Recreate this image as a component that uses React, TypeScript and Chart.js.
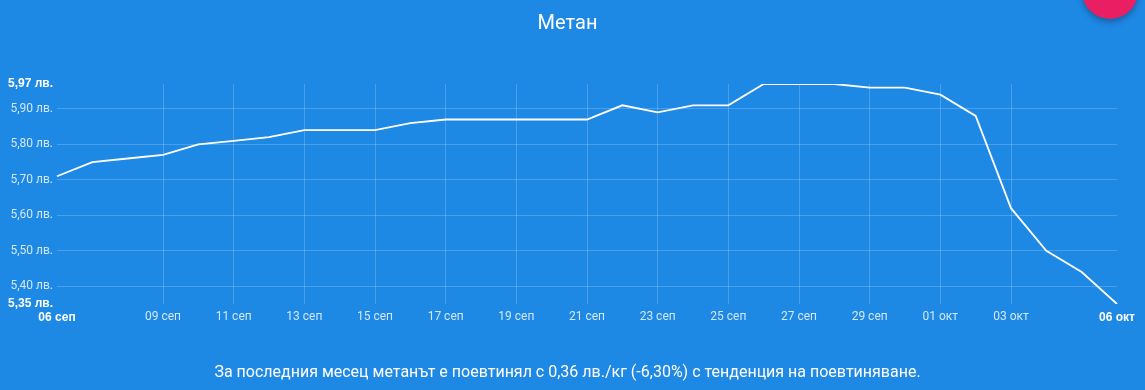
import React, { useEffect, useRef } from "react";
import { Chart, registerables } from "chart.js";

Chart.register(...registerables);

const title = "Метан";
const caption =
  "За последния месец метанът е поевтинял с 0,36 лв./кг (-6,30%) с тенденция на поевтиняване.";

const dates = [
  "06 сеп", "07 сеп", "08 сеп", "09 сеп", "10 сеп", "11 сеп", "12 сеп", "13 сеп",
  "14 сеп", "15 сеп", "16 сеп", "17 сеп", "18 сеп", "19 сеп", "20 сеп", "21 сеп",
  "22 сеп", "23 сеп", "24 сеп", "25 сеп", "26 сеп", "27 сеп", "28 сеп", "29 сеп",
  "30 сеп", "01 окт", "02 окт", "03 окт", "04 окт", "05 окт", "06 окт",
];

const prices = [
  5.71, 5.75, 5.76, 5.77, 5.8, 5.81, 5.82, 5.84,
  5.84, 5.84, 5.86, 5.87, 5.87, 5.87, 5.87, 5.87,
  5.91, 5.89, 5.91, 5.91, 5.97, 5.97, 5.97, 5.96,
  5.96, 5.94, 5.88, 5.62, 5.5, 5.44, 5.35,
];

const xTickLabels = [
  "06 сеп", "09 сеп", "11 сеп", "13 сеп", "15 сеп", "17 сеп", "19 сеп", "21 сеп",
  "23 сеп", "25 сеп", "27 сеп", "29 сеп", "01 окт", "03 окт", "06 окт",
];

const yTickValues = [5.35, 5.4, 5.5, 5.6, 5.7, 5.8, 5.9, 5.97];

const BG = "#1E88E5";
const GRID = "rgba(255,255,255,0.2)";
const LABEL = "rgba(255,255,255,0.8)";

export default function App() {
  const ref = useRef<HTMLCanvasElement | null>(null);

  useEffect(() => {
    if (!ref.current) return;
    const lastX = dates.length - 1;
    const lastY = yTickValues.length - 1;
    const isEdgeX = (i: number) => i === 0 || i === lastX;
    const isEdgeY = (i: number) => i === 0 || i === lastY;
    const chart = new Chart(ref.current, {
      type: "line",
      data: {
        labels: dates,
        datasets: [
          {
            data: prices,
            borderColor: "#ffffff",
            borderWidth: 1.8,
            pointRadius: 0,
            tension: 0,
            fill: false,
          },
        ],
      },
      options: {
        animation: false,
        responsive: false,
        devicePixelRatio: 1,
        layout: { padding: { top: 84, right: 28, bottom: 66, left: 0 } },
        plugins: {
          legend: { display: false },
          tooltip: { enabled: false },
          title: { display: false },
        },
        scales: {
          x: {
            type: "category",
            offset: false,
            border: { display: false },
            grid: {
              drawTicks: false,
              color: (ctx: any) => {
                const i = ctx.index;
                if (isEdgeX(i)) return "rgba(0,0,0,0)";
                return xTickLabels.includes(dates[i]) ? GRID : "rgba(0,0,0,0)";
              },
              lineWidth: 1,
            },
            ticks: {
              autoSkip: false,
              maxRotation: 0,
              padding: 6,
              callback: (_v: any, i: number) =>
                xTickLabels.includes(dates[i]) ? dates[i] : "",
              font: (ctx: any) =>
                isEdgeX(ctx.index)
                  ? { family: "'Liberation Sans', Arial, sans-serif", size: 12, weight: "bold" }
                  : { family: "Roboto, sans-serif", size: 12, weight: "normal" },
              color: (ctx: any) => (isEdgeX(ctx.index) ? "#ffffff" : LABEL),
            },
            afterFit: (scale: any) => {
              scale.height = 20;
            },
          },
          y: {
            type: "linear",
            min: 5.35,
            max: 5.97,
            border: { display: false },
            afterBuildTicks: (scale: any) => {
              scale.ticks = yTickValues.map((v) => ({ value: v }));
            },
            afterFit: (scale: any) => {
              scale.width = 57;
            },
            grid: {
              drawTicks: false,
              color: (ctx: any) => (isEdgeY(ctx.index) ? "rgba(0,0,0,0)" : GRID),
            },
            ticks: {
              padding: 4,
              callback: (v: any) => Number(v).toFixed(2).replace(".", ",") + " лв.",
              font: (ctx: any) =>
                isEdgeY(ctx.index)
                  ? { family: "'Liberation Sans', Arial, sans-serif", size: 12, weight: "bold" }
                  : { family: "Roboto, sans-serif", size: 12, weight: "normal" },
              color: (ctx: any) => (isEdgeY(ctx.index) ? "#ffffff" : LABEL),
            },
          },
        },
      },
    } as any);
    return () => chart.destroy();
  }, []);

  return (
    <div
      style={{
        position: "fixed",
        left: 0,
        top: 0,
        width: 1145,
        height: 390,
        background: BG,
        overflow: "hidden",
        fontFamily: "Roboto, sans-serif",
        color: "#ffffff",
      }}
    >
      <canvas
        ref={ref}
        width={1145}
        height={390}
        style={{ position: "absolute", left: 0, top: 0, width: 1145, height: 390 }}
      />
      <div
        style={{
          position: "absolute",
          left: 0,
          top: 9,
          width: 1135,
          textAlign: "center",
          fontSize: 20,
          lineHeight: "26px",
        }}
      >
        {title}
      </div>
      <div
        style={{
          position: "absolute",
          left: 0,
          top: 361,
          width: 1135,
          textAlign: "center",
          fontSize: 16,
          lineHeight: "22px",
        }}
      >
        {caption}
      </div>
      <div
        style={{
          position: "absolute",
          left: 1082,
          top: -37,
          width: 56,
          height: 56,
          borderRadius: "50%",
          background: "#E91E63",
          boxShadow: "0 3px 6px rgba(0,0,0,0.3)",
        }}
      />
    </div>
  );
}
